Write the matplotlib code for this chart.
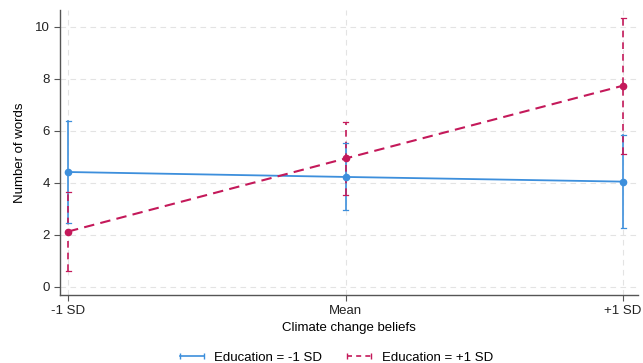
import matplotlib
matplotlib.use("Agg")
import matplotlib.pyplot as plt
from matplotlib.lines import Line2D

plt.rcParams['font.family'] = ['Liberation Sans', 'DejaVu Sans']

# Predicted number of words by climate change beliefs, split by education
x_labels = ['-1 SD', 'Mean', '+1 SD']
x_pos = [-1, 0, 1]

low_edu_mean = [4.42, 4.23, 4.05]
low_edu_lo = [2.45, 2.97, 2.27]
low_edu_hi = [6.40, 5.53, 5.85]

high_edu_mean = [2.13, 4.94, 7.74]
high_edu_lo = [0.63, 3.54, 5.12]
high_edu_hi = [3.65, 6.33, 10.35]

blue = '#3d8fdc'
red = '#c4195a'

fig = plt.figure(figsize=(6.43, 3.63), dpi=100)
ax = fig.add_axes([60 / 643, 68 / 363, 578 / 643, 285 / 363])

for i, x in enumerate(x_pos):
    ax.plot([x, x], [low_edu_lo[i], low_edu_hi[i]], color=blue, lw=1.2, zorder=3)
    ax.plot([x, x], [high_edu_lo[i], high_edu_hi[i]], color=red, lw=1.2,
            ls=(0, (4, 3)), zorder=4)
    for y, c in [(low_edu_lo[i], blue), (low_edu_hi[i], blue),
                 (high_edu_lo[i], red), (high_edu_hi[i], red)]:
        ax.plot([x - 0.009, x + 0.009], [y, y], color=c, lw=0.9, zorder=4)

ax.plot(x_pos, low_edu_mean, color=blue, lw=1.3, marker='o', ms=4.5, zorder=5)
ax.plot(x_pos, high_edu_mean, color=red, lw=1.5, ls=(0, (5, 3)), marker='o',
        ms=4.5, zorder=6)

ax.set_xlim(-1.029, 1.054)
ax.set_ylim(-0.31, 10.65)
ax.set_xticks(x_pos)
ax.set_xticklabels(x_labels)
ax.set_yticks(range(0, 11, 2))

ax.grid(True, color='#e3e3e3', ls=(0, (5, 4)), lw=0.8)
ax.set_axisbelow(True)
for side in ['top', 'right']:
    ax.spines[side].set_visible(False)
for side in ['left', 'bottom']:
    ax.spines[side].set_color('#555555')
    ax.spines[side].set_linewidth(1.0)
ax.tick_params(colors='#222222', labelsize=9.5, length=4, color='#555555')

ax.set_xlabel('Climate change beliefs', fontsize=9.5, labelpad=3)
ax.set_ylabel('Number of words', fontsize=9.5, labelpad=6)

# legend keys look like error bars: a line with a cap at each end
handles = [
    Line2D([], [], color=blue, lw=1.2, marker='|', ms=4, mew=1.0),
    Line2D([], [], color=red, lw=1.2, ls=(0, (3, 2.5)), marker='|', ms=4, mew=1.0),
]
fig.legend(handles, ['Education = -1 SD', 'Education = +1 SD'],
           loc='lower center', bbox_to_anchor=(0.52, -0.035), ncol=2, frameon=False,
           fontsize=9.5, handlelength=2.4, columnspacing=1.6, numpoints=2,
           handletextpad=0.5)

fig.savefig('out.png', dpi=100)
